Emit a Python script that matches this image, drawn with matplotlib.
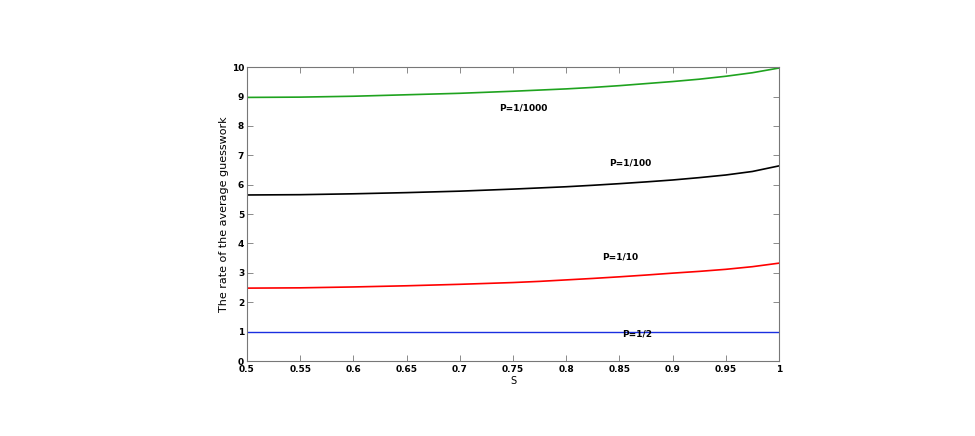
import matplotlib
matplotlib.use('Agg')
import matplotlib.pyplot as plt

# values
s = [0.5, 0.55, 0.6, 0.65, 0.7, 0.75, 0.775, 0.8, 0.825, 0.85, 0.875, 0.9, 0.925, 0.95, 0.975, 1.0]
rate_half = [1] * len(s)
rate_10 = [2.48, 2.49, 2.52, 2.56, 2.61, 2.67, 2.71, 2.76, 2.81, 2.865, 2.925, 2.99, 3.05, 3.12, 3.21, 3.33]
rate_100 = [5.65, 5.66, 5.69, 5.73, 5.78, 5.85, 5.89, 5.93, 5.98, 6.035, 6.095, 6.16, 6.24, 6.33, 6.45, 6.64]
rate_1000 = [8.97, 8.98, 9.01, 9.06, 9.11, 9.18, 9.22, 9.26, 9.31, 9.37, 9.44, 9.51, 9.59, 9.69, 9.81, 9.97]

labels = ['P=1/2', 'P=1/10', 'P=1/100', 'P=1/1000']
label_x = [0.867, 0.851, 0.86, 0.76]
label_y = [0.92, 3.54, 6.73, 8.6]

fig = plt.figure(figsize=(9.75, 4.36), dpi=100)
ax = fig.add_axes([0.2533, 0.172, 0.5457, 0.674])

ax.plot(s, rate_half, color='#1a2fe0', lw=1.0)
ax.plot(s, rate_10, color='#ff0000', lw=1.2)
ax.plot(s, rate_100, color='black', lw=1.2)
ax.plot(s, rate_1000, color='#1fa31f', lw=1.2)

for txt, x, y in zip(labels, label_x, label_y):
	ax.text(x, y, txt, fontsize=6.5, fontweight='bold', ha='center', va='center')

ax.set_xlim(0.5, 1)
ax.set_ylim(0, 10)
ax.set_xticks([0.5, 0.55, 0.6, 0.65, 0.7, 0.75, 0.8, 0.85, 0.9, 0.95, 1])
ax.set_xticklabels(['0.5', '0.55', '0.6', '0.65', '0.7', '0.75', '0.8', '0.85', '0.9', '0.95', '1'])
ax.set_yticks(range(0, 11))
ax.tick_params(direction='in', top=True, right=True, length=4, width=0.6,
	color='#777777', labelsize=6.5, pad=2)
ax.tick_params(axis='x', pad=3)
for lbl in ax.get_xticklabels() + ax.get_yticklabels():
	lbl.set_fontweight('bold')
for sp in ax.spines.values():
	sp.set_color('#777777')
	sp.set_linewidth(0.8)

ax.set_xlabel('S', fontsize=7, labelpad=1)
ax.set_ylabel('The rate of the average guesswork', fontsize=8)
ax.yaxis.set_label_coords(-0.034, 0.5)

fig.savefig('out.png', dpi=100)
